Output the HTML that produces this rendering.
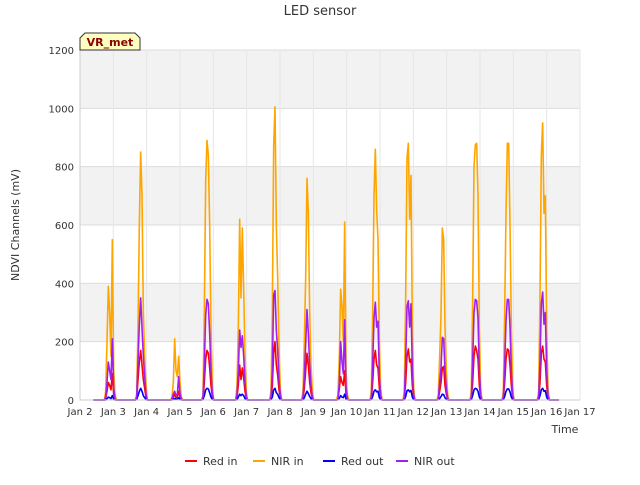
<!DOCTYPE html>
<html><head><meta charset="utf-8">
<style>
body{margin:0;background:#fff;font-family:"Liberation Sans","DejaVu Sans",sans-serif;}
svg text{font-family:"DejaVu Sans","Liberation Sans",sans-serif;}
</style></head>
<body>
<svg id="chart" width="640" height="480" viewBox="0 0 640 480">
  <text x="320" y="15" text-anchor="middle" font-size="13" fill="#333">LED sensor</text>
  <g id="bands"></g>
  <g id="grid"></g>
  <g id="series"></g>
  <g id="axes"></g>
  <text transform="translate(19,225) rotate(-90)" text-anchor="middle" font-size="11" fill="#333">NDVI Channels (mV)</text>
  <text x="565" y="433" text-anchor="middle" font-size="11" fill="#333">Time</text>
  <g>
    <path d="M80,50 L80,38 L85,33 L135,33 L140,38 L140,50 Z" fill="#ffffc0" stroke="#333" stroke-width="1"/>
    <text x="110" y="46" text-anchor="middle" font-size="11" font-weight="bold" fill="#8b0000">VR_met</text>
  </g>
  <g id="legend"></g>
</svg>
<script>
const yTicks=[0,200,400,600,800,1000,1200];
const xTickDays=[2,3,4,5,6,7,8,9,10,11,12,13,14,15,16,17];
const xTickLabels=["Jan 2","Jan 3","Jan 4","Jan 5","Jan 6","Jan 7","Jan 8","Jan 9","Jan 10","Jan 11","Jan 12","Jan 13","Jan 14","Jan 15","Jan 16","Jan 17"];
const peakTimes=[2.93,3.86,4.92,5.85,6.87,7.89,8.85,9.90,10.90,11.89,12.91,13.90,14.86,15.92];
const sampleOffsets=[-0.2,-0.16,-0.12,-0.08,-0.04,0,0.04,0.08,0.12,0.16,0.2];
const nirIn=[
[0,30,200,390,300,150,550,100,20,0,0],[0,20,250,600,850,700,300,150,50,0,0],[0,10,60,210,100,80,150,60,10,0,0],
[0,20,300,750,890,840,600,250,50,0,0],[0,50,250,620,350,590,380,150,30,0,0],[0,30,300,870,1005,600,420,180,40,0,0],
[0,30,200,420,760,640,300,120,30,0,0],[0,20,150,380,320,200,610,100,20,0,0],[0,30,300,700,860,650,550,200,40,0,0],
[0,30,350,830,880,620,770,250,40,0,0],[0,20,150,290,590,550,250,100,20,0,0],[0,30,350,800,875,880,700,250,40,0,0],
[0,30,300,640,880,880,600,250,40,0,0],[0,30,350,840,950,640,700,250,40,0,0]];
const nirOut=[
[0,10,60,130,100,70,210,40,5,0,0],[0,10,130,260,350,250,150,80,20,0,0],[0,5,20,30,15,20,80,20,5,0,0],
[0,10,120,290,345,330,230,100,20,0,0],[0,20,100,240,180,220,150,60,10,0,0],[0,10,100,360,375,240,170,70,15,0,0],
[0,10,80,190,310,230,120,50,10,0,0],[0,5,60,200,130,90,275,40,5,0,0],[0,10,120,280,335,250,270,80,15,0,0],
[0,10,130,320,340,250,330,100,15,0,0],[0,5,60,110,215,210,100,40,5,0,0],[0,10,130,300,345,340,280,100,15,0,0],
[0,10,120,270,345,345,250,100,15,0,0],[0,10,130,330,370,260,300,100,15,0,0]];
const redIn=[
[0,5,30,60,50,35,90,20,3,0,0],[0,5,70,130,170,120,70,40,10,0,0],[0,3,10,20,8,10,30,10,3,0,0],
[0,5,60,140,170,160,110,50,10,0,0],[0,10,50,120,70,110,75,30,5,0,0],[0,5,50,160,200,120,85,35,8,0,0],
[0,5,40,100,160,120,60,25,5,0,0],[0,3,40,80,60,50,100,20,3,0,0],[0,5,60,140,170,120,110,40,8,0,0],
[0,5,60,150,175,130,140,50,8,0,0],[0,3,30,60,110,115,50,20,3,0,0],[0,5,60,150,185,170,140,50,8,0,0],
[0,5,60,140,175,170,120,50,8,0,0],[0,5,60,160,185,140,130,50,8,0,0]];
const redOut=[
[0,0,5,10,8,5,15,3,0,0,0],[0,2,15,30,40,30,15,8,2,0,0],[0,0,3,5,3,3,8,2,0,0,0],
[0,2,15,35,40,38,25,10,2,0,0],[0,2,10,20,15,20,15,5,1,0,0],[0,2,10,35,40,25,20,8,2,0,0],
[0,1,8,20,30,22,12,5,1,0,0],[0,1,6,15,10,8,20,4,1,0,0],[0,2,12,30,35,28,30,8,2,0,0],
[0,2,12,32,35,28,33,10,2,0,0],[0,1,5,12,20,18,8,3,0,0,0],[0,2,15,35,40,38,30,10,2,0,0],
[0,2,12,30,38,38,28,10,2,0,0],[0,2,15,35,40,30,32,10,2,0,0]];
const seriesNames=["Red in","NIR in","Red out","NIR out"];
const seriesColors=["#ff0000","#ffa500","#0000ff","#a020f0"];
const startDay=2.4, endDay=16.37;

const X0=80,X1=580,Y0=400,Y1=50;
const x=d=>X0+(d-2)/(17-2)*(X1-X0);
const y=v=>Y0-(v/1200)*(Y0-Y1);
const NS="http://www.w3.org/2000/svg";
function mk(tag,attrs,parent){const e=document.createElementNS(NS,tag);for(const k in attrs)e.setAttribute(k,attrs[k]);parent.appendChild(e);return e;}

const bands=document.getElementById('bands');
const bg=mk('rect',{x:X0,y:Y1,width:X1-X0,height:Y0-Y1,fill:'#ffffff'},bands);


for(let i=0;i<yTicks.length-1;i++){
  if(i%2===1){
    const r=mk('rect',{x:X0,y:y(yTicks[i+1]),width:X1-X0,height:y(yTicks[i])-y(yTicks[i+1]),fill:'#f2f2f2'},bands);
    
    
  }
}
const grid=document.getElementById('grid');
const axes=document.getElementById('axes');
yTicks.forEach(v=>{
  const l=mk('line',{x1:X0,x2:X1,y1:y(v),y2:y(v),stroke:'#dcdcdc','stroke-width':1},grid);
  
  
  const t=mk('text',{x:X0-6,y:y(v)+4,'text-anchor':'end','font-size':10,fill:'#333'},axes);
  t.textContent=v;
  
  
});
xTickDays.forEach((d,i)=>{
  const l=mk('line',{x1:x(d),x2:x(d),y1:Y1,y2:Y0,stroke:'#e6e6e6','stroke-width':1},grid);
  
  
  const t=mk('text',{x:x(d),y:Y0+15,'text-anchor':'middle','font-size':10,fill:'#333'},axes);
  t.textContent=xTickLabels[i];
  
  
});
const ax=mk('path',{d:`M${X0},${Y1}V${Y0}H${X1}`,fill:'none',stroke:'#cccccc','stroke-width':1},axes);



const seriesData=[redIn,nirIn,redOut,nirOut];
const sg=document.getElementById('series');
seriesData.forEach((arr,si)=>{
  let pts=[[x(startDay),y(0)]];
  peakTimes.forEach((pt,di)=>{
    sampleOffsets.forEach((o,k)=>{pts.push([x(pt+o),y(arr[di][k])]);});
  });
  pts.push([x(endDay),y(0)]);
  const p=mk('path',{d:'M'+pts.map(p=>p[0].toFixed(2)+','+p[1].toFixed(2)).join('L'),fill:'none',stroke:seriesColors[si],'stroke-width':1.6,'stroke-linejoin':'round'},sg);
  
  
});

const lg=document.getElementById('legend');
const lx=[185,253,323,396];
seriesNames.forEach((n,i)=>{
  const g=mk('g',{},lg);
  
  
  mk('line',{x1:lx[i],x2:lx[i]+12,y1:461,y2:461,stroke:seriesColors[i],'stroke-width':2},g);
  const t=mk('text',{x:lx[i]+18,y:465,'font-size':11,fill:'#333'},g);
  t.textContent=n;
});
</script>
</body></html>
